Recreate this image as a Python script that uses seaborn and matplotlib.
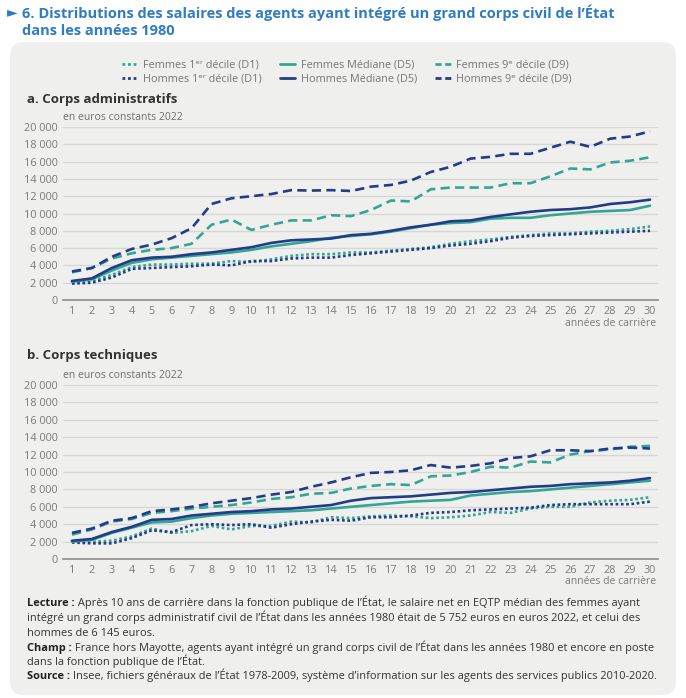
import numpy as np
import pandas as pd
import matplotlib
matplotlib.use('Agg')
import matplotlib.pyplot as plt
from matplotlib.lines import Line2D
from matplotlib.patches import FancyBboxPatch
from matplotlib.ticker import FuncFormatter
import seaborn as sns

# ---- data ----
annees = list(range(1, 31))

# a. Corps administratifs
adm_f_d1 = [2100, 2200, 2900, 3800, 4100, 4100, 4200, 4200, 4500, 4400,
            4700, 5100, 5300, 5300, 5500, 5500, 5700, 5900, 6100, 6500,
            6800, 7000, 7300, 7500, 7700, 7700, 7900, 8000, 8200, 8500]
adm_h_d1 = [1900, 2000, 2600, 3600, 3700, 3800, 3900, 4100, 4000, 4500,
            4500, 4800, 4900, 4900, 5200, 5400, 5600, 5800, 6000, 6300,
            6500, 6800, 7200, 7400, 7500, 7600, 7700, 7800, 7900, 8000]
adm_f_d5 = [2100, 2400, 3400, 4300, 4700, 4900, 5100, 5300, 5500, 5800,
            6200, 6500, 6800, 7200, 7400, 7600, 7900, 8300, 8700, 8900,
            9000, 9400, 9500, 9500, 9800, 10000, 10200, 10300, 10400, 10900]
adm_h_d5 = [2200, 2500, 3700, 4600, 4900, 5000, 5300, 5500, 5800, 6100,
            6600, 6900, 7000, 7100, 7500, 7650, 8000, 8400, 8700, 9100,
            9200, 9600, 9900, 10200, 10400, 10500, 10700, 11100, 11300, 11600]
adm_f_d9 = [3200, 3700, 4800, 5400, 5800, 6000, 6500, 8700, 9300, 8100,
            8700, 9200, 9200, 9800, 9700, 10400, 11500, 11400, 12800, 13000,
            13000, 13000, 13500, 13500, 14300, 15200, 15100, 15900, 16100, 16500]
adm_h_d9 = [3300, 3700, 5000, 5900, 6400, 7150, 8300, 11100, 11760, 12000,
            12250, 12700, 12650, 12700, 12600, 13100, 13300, 13800, 14800, 15400,
            16350, 16550, 16900, 16900, 17600, 18300, 17700, 18650, 18900, 19500]

# b. Corps techniques
tec_f_d1 = [2000, 2000, 2100, 2600, 3500, 3000, 3200, 3800, 3400, 3800,
            3800, 4300, 4200, 4800, 4700, 4900, 5000, 4900, 4700, 4800,
            5000, 5400, 5300, 5800, 6000, 6000, 6500, 6700, 6800, 7100]
tec_h_d1 = [1900, 1800, 1800, 2400, 3300, 3100, 3900, 4000, 3900, 4000,
            3600, 4000, 4300, 4500, 4400, 4800, 4800, 5000, 5300, 5400,
            5600, 5700, 5800, 5900, 6200, 6300, 6300, 6300, 6300, 6600]
tec_f_d5 = [2000, 2200, 3000, 3600, 4200, 4300, 4700, 5000, 5200, 5300,
            5400, 5500, 5600, 5800, 6000, 6200, 6400, 6600, 6700, 6800,
            7300, 7500, 7700, 7800, 8000, 8200, 8400, 8600, 8800, 9000]
tec_h_d5 = [2100, 2300, 3100, 3700, 4500, 4600, 5000, 5200, 5400, 5500,
            5700, 5800, 6000, 6200, 6700, 7000, 7100, 7200, 7400, 7600,
            7700, 7900, 8100, 8300, 8400, 8600, 8700, 8800, 9000, 9300]
tec_f_d9 = [2800, 3400, 4300, 4600, 5300, 5500, 5800, 6000, 6200, 6500,
            6900, 7100, 7500, 7600, 8100, 8400, 8600, 8500, 9500, 9600,
            10000, 10600, 10500, 11200, 11100, 12000, 12400, 12600, 12900, 13000]
tec_h_d9 = [3000, 3500, 4400, 4700, 5500, 5700, 6000, 6400, 6700, 7000,
            7400, 7700, 8300, 8800, 9400, 9900, 10000, 10200, 10800, 10500,
            10700, 11000, 11600, 11800, 12500, 12500, 12400, 12700, 12800, 12700]

libelles = ['Femmes 1\u1d49\u02b3 décile (D1)', 'Hommes 1\u1d49\u02b3 décile (D1)',
            'Femmes Médiane (D5)', 'Hommes Médiane (D5)',
            'Femmes 9\u1d49 décile (D9)', 'Hommes 9\u1d49 décile (D9)']

# ---- style ----
W, H = 686, 698
NAVY = '#233c87'
TEAL = '#34a595'
PANEL = '#efefee'
DOT = (0, (1, 1))
DASH = (0, (3.5, 2))
styles = [(TEAL, DOT), (NAVY, DOT), (TEAL, '-'), (NAVY, '-'), (TEAL, DASH), (NAVY, DASH)]
leg_styles = [(TEAL, DOT), (NAVY, DOT), (TEAL, '-'), (NAVY, '-'),
              (TEAL, (0, (2.2, 1.3))), (NAVY, (0, (2.2, 1.3)))]

sns.set_style('whitegrid')
plt.rcParams['font.family'] = ['Open Sans', 'DejaVu Sans']


def px(x, y):
    return x / W, 1 - y / H


fig = plt.figure(figsize=(W / 100, H / 100), dpi=100)
fig.patch.set_facecolor('white')

# grey rounded panel
fig.patches.append(FancyBboxPatch(px(10, 695), 666 / W, 653 / H,
                                  boxstyle='round,pad=0,rounding_size=0.02',
                                  transform=fig.transFigure, facecolor=PANEL,
                                  edgecolor='none', zorder=-5))

# title
fig.text(*px(7, 13), '\u25BA', color='#2f7cc4', fontsize=10, va='center', ha='left')
fig.text(*px(22, 13), '6. Distributions des salaires des agents ayant intégré un grand corps civil de l\u2019État',
         color='#2f7cc4', fontsize=10.5, fontweight='bold', va='center', ha='left')
fig.text(*px(22, 31), 'dans les années 1980',
         color='#2f7cc4', fontsize=10.5, fontweight='bold', va='center', ha='left')

fmt = FuncFormatter(lambda v, p: f'{int(v):,}'.replace(',', ' '))


def panel(ax, series):
    for vals, (c, ls) in zip(series, styles):
        sns.lineplot(x=annees, y=vals, ax=ax, color=c, linestyle=ls, lw=1.9,
                     dash_capstyle='butt')
    ax.set_facecolor('none')
    ax.set_zorder(2)
    ax.set_xlim(0.55, 30.4)
    ax.set_ylim(0, 20000)
    ax.set_xticks(annees)
    ax.set_yticks(range(0, 20001, 2000))
    ax.yaxis.set_major_formatter(fmt)
    ax.grid(axis='x', visible=False)
    ax.grid(axis='y', color='#d6d6d6', lw=0.9)
    for s in ['left', 'right', 'top']:
        ax.spines[s].set_visible(False)
    ax.spines['bottom'].set_color('#8e8e8e')
    ax.spines['bottom'].set_linewidth(1.2)
    ax.tick_params(axis='both', length=0, labelsize=7.8, colors='#7a7a7a', pad=4)
    ax.set_xlabel('')
    ax.set_ylabel('')


ax1 = fig.add_axes([63 / W, 1 - 300 / H, 595 / W, 173 / H])
panel(ax1, [adm_f_d1, adm_h_d1, adm_f_d5, adm_h_d5, adm_f_d9, adm_h_d9])
ax2 = fig.add_axes([63 / W, 1 - 559 / H, 595 / W, 174 / H])
panel(ax2, [tec_f_d1, tec_h_d1, tec_f_d5, tec_h_d5, tec_f_d9, tec_h_d9])

fig.text(*px(27, 99), 'a. Corps administratifs', fontsize=9.5, fontweight='bold',
         color='#333333', va='center')
fig.text(*px(63, 117), 'en euros constants 2022', fontsize=7.5, color='#6e6e6e', va='center')
fig.text(*px(656, 324), 'années de carrière', fontsize=7.5, color='#7a7a7a', va='center', ha='right')

fig.text(*px(27, 356), 'b. Corps techniques', fontsize=9.5, fontweight='bold',
         color='#333333', va='center')
fig.text(*px(63, 375), 'en euros constants 2022', fontsize=7.5, color='#6e6e6e', va='center')
fig.text(*px(656, 582), 'années de carrière', fontsize=7.5, color='#7a7a7a', va='center', ha='right')

# legend
handles = [Line2D([], [], color=c, linestyle=ls, lw=2, dash_capstyle='butt')
           for c, ls in leg_styles]
fig.legend(handles, libelles, ncol=3, loc='center', bbox_to_anchor=px(347, 72),
           frameon=False, fontsize=7.8, labelcolor='#777777', handlelength=1.4,
           handletextpad=0.5, columnspacing=1.7, labelspacing=0.3)

# notes
notes = [
    (606, 'Lecture :', ' Après 10 ans de carrière dans la fonction publique de l\u2019État, le salaire net en EQTP médian des femmes ayant'),
    (621, '', 'intégré un grand corps administratif civil de l\u2019État dans les années 1980 était de 5 752 euros en euros 2022, et celui des'),
    (636, '', 'hommes de 6 145 euros.'),
    (651, 'Champ :', ' France hors Mayotte, agents ayant intégré un grand corps civil de l\u2019État dans les années 1980 et encore en poste'),
    (665, '', 'dans la fonction publique de l\u2019État.'),
    (679, 'Source :', ' Insee, fichiers généraux de l\u2019État 1978-2009, système d\u2019information sur les agents des services publics 2010-2020.'),
]
renderer = fig.canvas.get_renderer()
for y, gras, texte in notes:
    x0 = 27 / W
    if gras:
        t = fig.text(x0, 1 - y / H, gras, fontsize=7.9, fontweight='bold',
                     color='#222222', va='baseline')
        bb = t.get_window_extent(renderer)
        x0 = bb.x1 / fig.bbox.width
    fig.text(x0, 1 - y / H, texte, fontsize=7.9, color='#333333', va='baseline')

plt.savefig('out.png', dpi=100)
